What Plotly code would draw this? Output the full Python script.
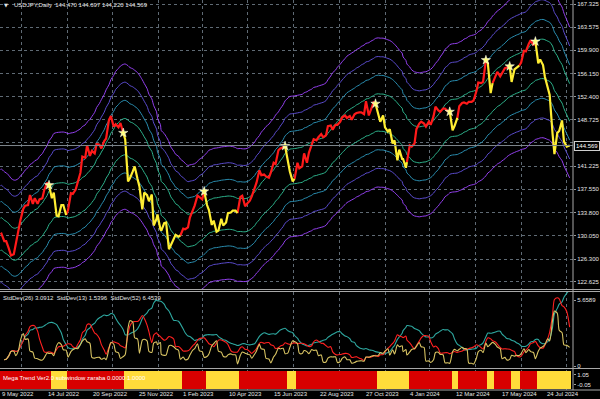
import pandas as pd
import numpy as np
import plotly.graph_objects as go

# ---------------- data ----------------
first_date = "2022-05-09"
first_close = 130.30
week_start = "2022-05-10"          # Tuesdays; each week lists the Tuesday and Friday close
tue_fri_closes = [
    # 2022 May-Jun
    130.4, 129.2, 129.2, 127.9, 126.9, 127.1, 128.7, 130.9,
    132.6, 134.4, 134.9, 135.0, 136.6, 135.2, 136.1, 135.2,
    # Jul-Aug
    135.9, 136.1, 137.4, 138.6, 138.2, 136.1, 137.0, 133.3,
    133.2, 135.0, 135.0, 133.4, 134.2, 136.9, 136.8, 137.5, 138.7, 140.2,
    # Sep-Oct
    142.8, 142.6, 144.6, 142.9, 143.7, 143.3, 144.8, 144.7,
    144.1, 145.3, 145.7, 148.7, 149.3, 147.6, 148.0, 147.5,
    # Nov-Dec
    148.2, 146.6, 145.6, 138.8, 139.3, 140.4, 141.2, 139.2, 138.0, 134.3,
    137.0, 136.6, 135.6, 136.7, 131.7, 132.8, 133.5, 131.1,
    # 2023 Jan-Feb
    130.9, 132.1, 132.2, 127.9, 128.6, 129.6, 130.2, 129.9, 130.1, 131.2,
    131.1, 131.4, 133.0, 134.2, 134.9, 136.5, 136.2, 135.9,
    # Mar-Apr
    137.2, 135.0, 134.2, 131.8, 132.5, 130.7, 130.9, 132.8,
    131.7, 132.2, 133.7, 133.8, 134.1, 134.1, 133.7, 136.3,
    # May-Jun
    136.5, 134.8, 135.2, 135.7, 136.4, 137.9, 138.6, 140.6, 139.8, 139.9,
    139.6, 139.4, 140.2, 141.8, 141.6, 143.8, 144.1, 144.3,
    # Jul-Aug
    144.5, 142.1, 140.4, 138.8, 139.2, 141.8, 140.9, 141.2,
    143.3, 141.8, 143.4, 144.9, 145.6, 145.4, 145.9, 146.4, 145.9, 146.2,
    # Sep-Oct
    147.7, 147.8, 147.1, 147.9, 147.9, 148.4, 149.1, 149.4,
    149.0, 149.3, 148.7, 149.6, 149.8, 149.9, 149.9, 149.6,
    # Nov-Dec
    151.7, 149.4, 150.4, 151.5, 151.3, 149.6, 148.4, 149.4, 147.5, 146.8,
    147.2, 144.9, 145.4, 142.2, 143.9, 142.4, 142.4, 141.0,
    # 2024 Jan-Feb
    141.9, 144.6, 144.4, 144.9, 147.2, 148.1, 148.4, 148.1, 147.6, 148.4,
    147.9, 149.3, 150.8, 150.2, 150.0, 150.5, 150.5, 150.1,
    # Mar-Apr
    150.0, 147.0, 147.7, 149.0, 150.9, 151.4, 151.5, 151.3,
    151.6, 151.6, 151.8, 153.3, 154.7, 154.6, 154.8, 158.3,
    # May-Jun
    157.8, 153.0, 154.6, 155.8, 156.4, 155.7, 156.2, 157.0, 157.1, 157.3,
    154.8, 156.8, 157.1, 157.4, 157.9, 159.8, 159.7, 160.9,
    # Jul-Aug
    161.5, 160.7, 161.3, 157.8, 158.4, 157.5, 155.6, 153.8, 152.7, 146.5,
    143.2, 146.6, 146.9, 148.6, 145.2, 144.4,
]
last_date = "2024-08-28"
last_close = 144.569

holidays = ["2022-12-26", "2023-01-02", "2023-12-25", "2024-01-01"]

# Mega Trend: state flips (starts in up-trend = red), alternating
trend_flip_dates = ["2022-07-22", "2022-08-16", "2022-11-08", "2023-02-03",
                    "2023-03-10", "2023-04-28", "2023-07-07", "2023-07-21",
                    "2023-11-17", "2024-01-05", "2024-03-08", "2024-03-19",
                    "2024-04-30", "2024-05-10", "2024-06-04", "2024-06-18",
                    "2024-07-12"]
first_trend = 1  # 1 = up (red), 0 = down (yellow)

label_dates = ["2022-05-09", "2022-07-14", "2022-09-20", "2022-11-25", "2023-02-01",
               "2023-04-10", "2023-06-15", "2023-08-22", "2023-10-27", "2024-01-04",
               "2024-03-12", "2024-05-17", "2024-07-24"]
label_texts = ["9 May 2022", "14 Jul 2022", "20 Sep 2022", "25 Nov 2022", "1 Feb 2023",
               "10 Apr 2023", "15 Jun 2023", "22 Aug 2023", "27 Oct 2023", "4 Jan 2024",
               "12 Mar 2024", "17 May 2024", "24 Jul 2024"]
price_ticks = [167.325, 163.575, 159.900, 156.150, 152.400, 148.725, 144.975,
               141.225, 137.550, 133.800, 130.050, 126.300, 122.625]
hidden_tick = 144.975
header_text = "USDJPY,Daily  144.470 144.697 144.220 144.569"
std_text = "StdDev(26) 3.0912  StdDev(13) 1.5396  StdDev(52) 6.4539"
mt_text = "Mega Trend Ver2.0 subwindow zaraba 0.0000 1.0000"
std_scale_max = 5.6589
std_periods = {"26": "36D", "13": "18D", "52": "73D"}
envelope_pcts = [2, 4, 6, 8]
envelope_window = "56D"

# ---------------- styles ----------------
W, H = 600, 399
PLOT_R = 573          # right edge of chart area (px)
BG = "#000000"
TXT = "#e6e6e6"
GRID = "#5f6a74"
RED = "#ff1a1a"
YEL = "#ffee33"
BLK_RED = "#d80000"
BLK_YEL = "#ffdc3a"
env_colors = {2: "#2db38c", 4: "#2a8fb2", 6: "#5b4ccf", 8: "#9440f0"}
std_colors = {"26": "#ff2020", "13": "#d8c463", "52": "#2ea8a0"}
FONT = "Liberation Sans"
FS = 6

def py(px):  # pixel row -> paper fraction
    return 1 - px / H

# ---------------- calendar / indices ----------------
cal = pd.bdate_range(first_date, last_date)
cal = cal[~cal.isin(pd.to_datetime(holidays))]

def bar_index(dates):
    return cal.get_indexer(pd.DatetimeIndex(pd.to_datetime(dates)), method="nearest")

tues = pd.date_range(week_start, periods=len(tue_fri_closes) // 2, freq="7D")
pdates = [pd.Timestamp(first_date)]
for t in tues:
    pdates += [t, t + pd.Timedelta(days=3)]
pdates.append(pd.Timestamp(last_date))
pcloses = [first_close] + list(tue_fri_closes[:2 * len(tues)]) + [last_close]
price = pd.Series(pcloses, index=pd.DatetimeIndex(pdates)).sort_index()
pidx = bar_index(price.index)

flips = pd.to_datetime(trend_flip_dates)

def state_at(d):
    n = int((flips <= d).sum())
    return first_trend if n % 2 == 0 else 1 - first_trend

states = [state_at(d) for d in price.index]

# ---------------- figure ----------------
fig = go.Figure()

# envelopes
center = price.rolling(envelope_window, min_periods=1).mean()
for p in envelope_pcts:
    for sgn in (1, -1):
        fig.add_trace(go.Scatter(
            x=pidx, y=(center * (1 + sgn * p / 100)).values, mode="lines",
            line=dict(color=env_colors[p], width=1, shape="spline", smoothing=0.8),
            xaxis="x", yaxis="y", hoverinfo="skip"))

# price coloured by trend
segs = {0: ([], []), 1: ([], [])}
vals = price.values
for j in range(1, len(price)):
    s = states[j]
    xs, ys = segs[s]
    if not xs or xs[-1] != pidx[j - 1]:
        if xs:
            xs.append(None); ys.append(None)
        xs.append(int(pidx[j - 1])); ys.append(float(vals[j - 1]))
    xs.append(int(pidx[j])); ys.append(float(vals[j]))
for s, col in ((1, RED), (0, YEL)):
    fig.add_trace(go.Scatter(x=segs[s][0], y=segs[s][1], mode="lines",
                             line=dict(color=col, width=2.2),
                             xaxis="x", yaxis="y", hoverinfo="skip"))

# stars at the top where a down-trend starts
sx, sy = [], []
for f in flips:
    if state_at(f) == 0:
        before = price[price.index < f]
        if len(before):
            sx.append(int(bar_index([before.index[-1]])[0]))
            sy.append(float(before.iloc[-1]))
fig.add_trace(go.Scatter(x=sx, y=sy, mode="markers",
                         marker=dict(symbol="star", size=7, color="#ffff80",
                                     line=dict(color="#ffffff", width=0.5)),
                         xaxis="x", yaxis="y", hoverinfo="skip"))

# StdDev subwindow
for key in ("52", "26", "13"):
    sd = price.rolling(std_periods[key], min_periods=3).std(ddof=0)
    fig.add_trace(go.Scatter(x=pidx, y=sd.values, mode="lines",
                             line=dict(color=std_colors[key], width=1.1,
                                       shape="spline", smoothing=0.7),
                             xaxis="x2", yaxis="y2", hoverinfo="skip"))

# Mega Trend histogram
cal_idx = np.arange(len(cal))
cal_cols = [BLK_RED if state_at(d) == 1 else BLK_YEL for d in cal]
fig.add_trace(go.Bar(x=cal_idx, y=np.ones(len(cal)), marker=dict(color=cal_cols, line=dict(width=0)),
                     width=1.0, xaxis="x3", yaxis="y3", hoverinfo="skip"))

# ---------------- axes ----------------
xr = [-0.5, len(cal) + 2.5]
grid_x = [int(i) + 22 for i in bar_index(label_dates)]
xdom = [0, PLOT_R / W]
xcommon = dict(domain=xdom, range=xr, showgrid=True, gridcolor=GRID, griddash="dot",
               gridwidth=1, tickvals=grid_x, showticklabels=False, ticks="",
               zeroline=False, showline=False, fixedrange=True)

y_top_val = 167.325 + 4 / 6.219
y_bot_val = 167.325 - 285.5 / 6.219
s_unit = std_scale_max / 66.0

tick_font = dict(family=FONT, size=FS, color=TXT)
yc = dict(side="right", ticks="outside", ticklen=2, tickcolor="#9a9a9a",
          tickfont=tick_font, zeroline=False, showline=False, fixedrange=True,
          automargin=False)
fig.update_layout(
    width=W, height=H, margin=dict(l=0, r=0, t=0, b=0),
    paper_bgcolor=BG, plot_bgcolor=BG, showlegend=False, hovermode=False,
    bargap=0,
    xaxis=dict(anchor="y", **xcommon),
    xaxis2=dict(anchor="y2", matches="x", **xcommon),
    xaxis3=dict(anchor="y3", matches="x", **xcommon),
    yaxis=dict(domain=[py(289.5), 1], range=[y_bot_val, y_top_val],
               tickvals=price_ticks,
               ticktext=["" if v == hidden_tick else f"{v:.3f}" for v in price_ticks],
               showgrid=True, gridcolor=GRID, griddash="dot", gridwidth=1, **yc),
    yaxis2=dict(domain=[py(368.5), py(291.5)],
                range=[-2.5 * s_unit, std_scale_max + 8.5 * s_unit],
                tickvals=[std_scale_max, 0], ticktext=[f"{std_scale_max:.4f}", "0"],
                showgrid=False, **yc),
    yaxis3=dict(domain=[py(389.5), py(369.5)], range=[-0.05, 1.05],
                tickvals=[0.775, 0.225], ticktext=["1.05", "-0.05"],
                showgrid=False, **yc),
)

# ---------------- frame lines ----------------
shapes = []
line_col = "#a8a8a8"
for ypx in (289.5, 291.5, 368.5, 390.0):
    shapes.append(dict(type="line", xref="paper", yref="paper", x0=0, x1=1,
                       y0=py(ypx), y1=py(ypx), line=dict(color=line_col, width=1)))
shapes.append(dict(type="line", xref="paper", yref="paper", x0=PLOT_R / W, x1=PLOT_R / W,
                   y0=py(390), y1=1, line=dict(color=line_col, width=1)))
shapes.append(dict(type="line", xref="paper", yref="y", x0=0, x1=PLOT_R / W,
                   y0=last_close, y1=last_close, line=dict(color="#7d868c", width=1)))
fig.update_layout(shapes=shapes)

# ---------------- texts ----------------
ann = []
ann.append(dict(xref="paper", yref="paper", x=2 / W, y=py(5), text="▼", showarrow=False,
                xanchor="left", yanchor="middle", font=dict(family="DejaVu Sans", size=5, color=TXT)))
ann.append(dict(xref="paper", yref="paper", x=12 / W, y=py(5), text=header_text, showarrow=False,
                xanchor="left", yanchor="middle", font=dict(family=FONT, size=FS, color=TXT)))
ann.append(dict(xref="paper", yref="paper", x=1 / W, y=py(298), text=std_text, showarrow=False,
                xanchor="left", yanchor="middle", font=dict(family=FONT, size=FS, color=TXT)))
ann.append(dict(xref="paper", yref="paper", x=1 / W, y=py(378), text=mt_text, showarrow=False,
                xanchor="left", yanchor="middle", font=dict(family=FONT, size=FS, color="#ffffff")))
ann.append(dict(xref="paper", yref="y", x=(PLOT_R + 1) / W, y=last_close, text=f"{last_close:.3f}",
                showarrow=False, xanchor="left", yanchor="middle", bgcolor="#000000",
                bordercolor="#d0d0d0", borderwidth=1, borderpad=1,
                font=dict(family=FONT, size=FS, color="#ffffff")))
for d, t in zip(bar_index(label_dates), label_texts):
    ann.append(dict(xref="x", yref="paper", x=int(d) - 0.5, y=py(394), text=t, showarrow=False,
                    xanchor="left", yanchor="middle", font=dict(family=FONT, size=FS, color=TXT)))
fig.update_layout(annotations=ann)

fig.write_html("out.html")
